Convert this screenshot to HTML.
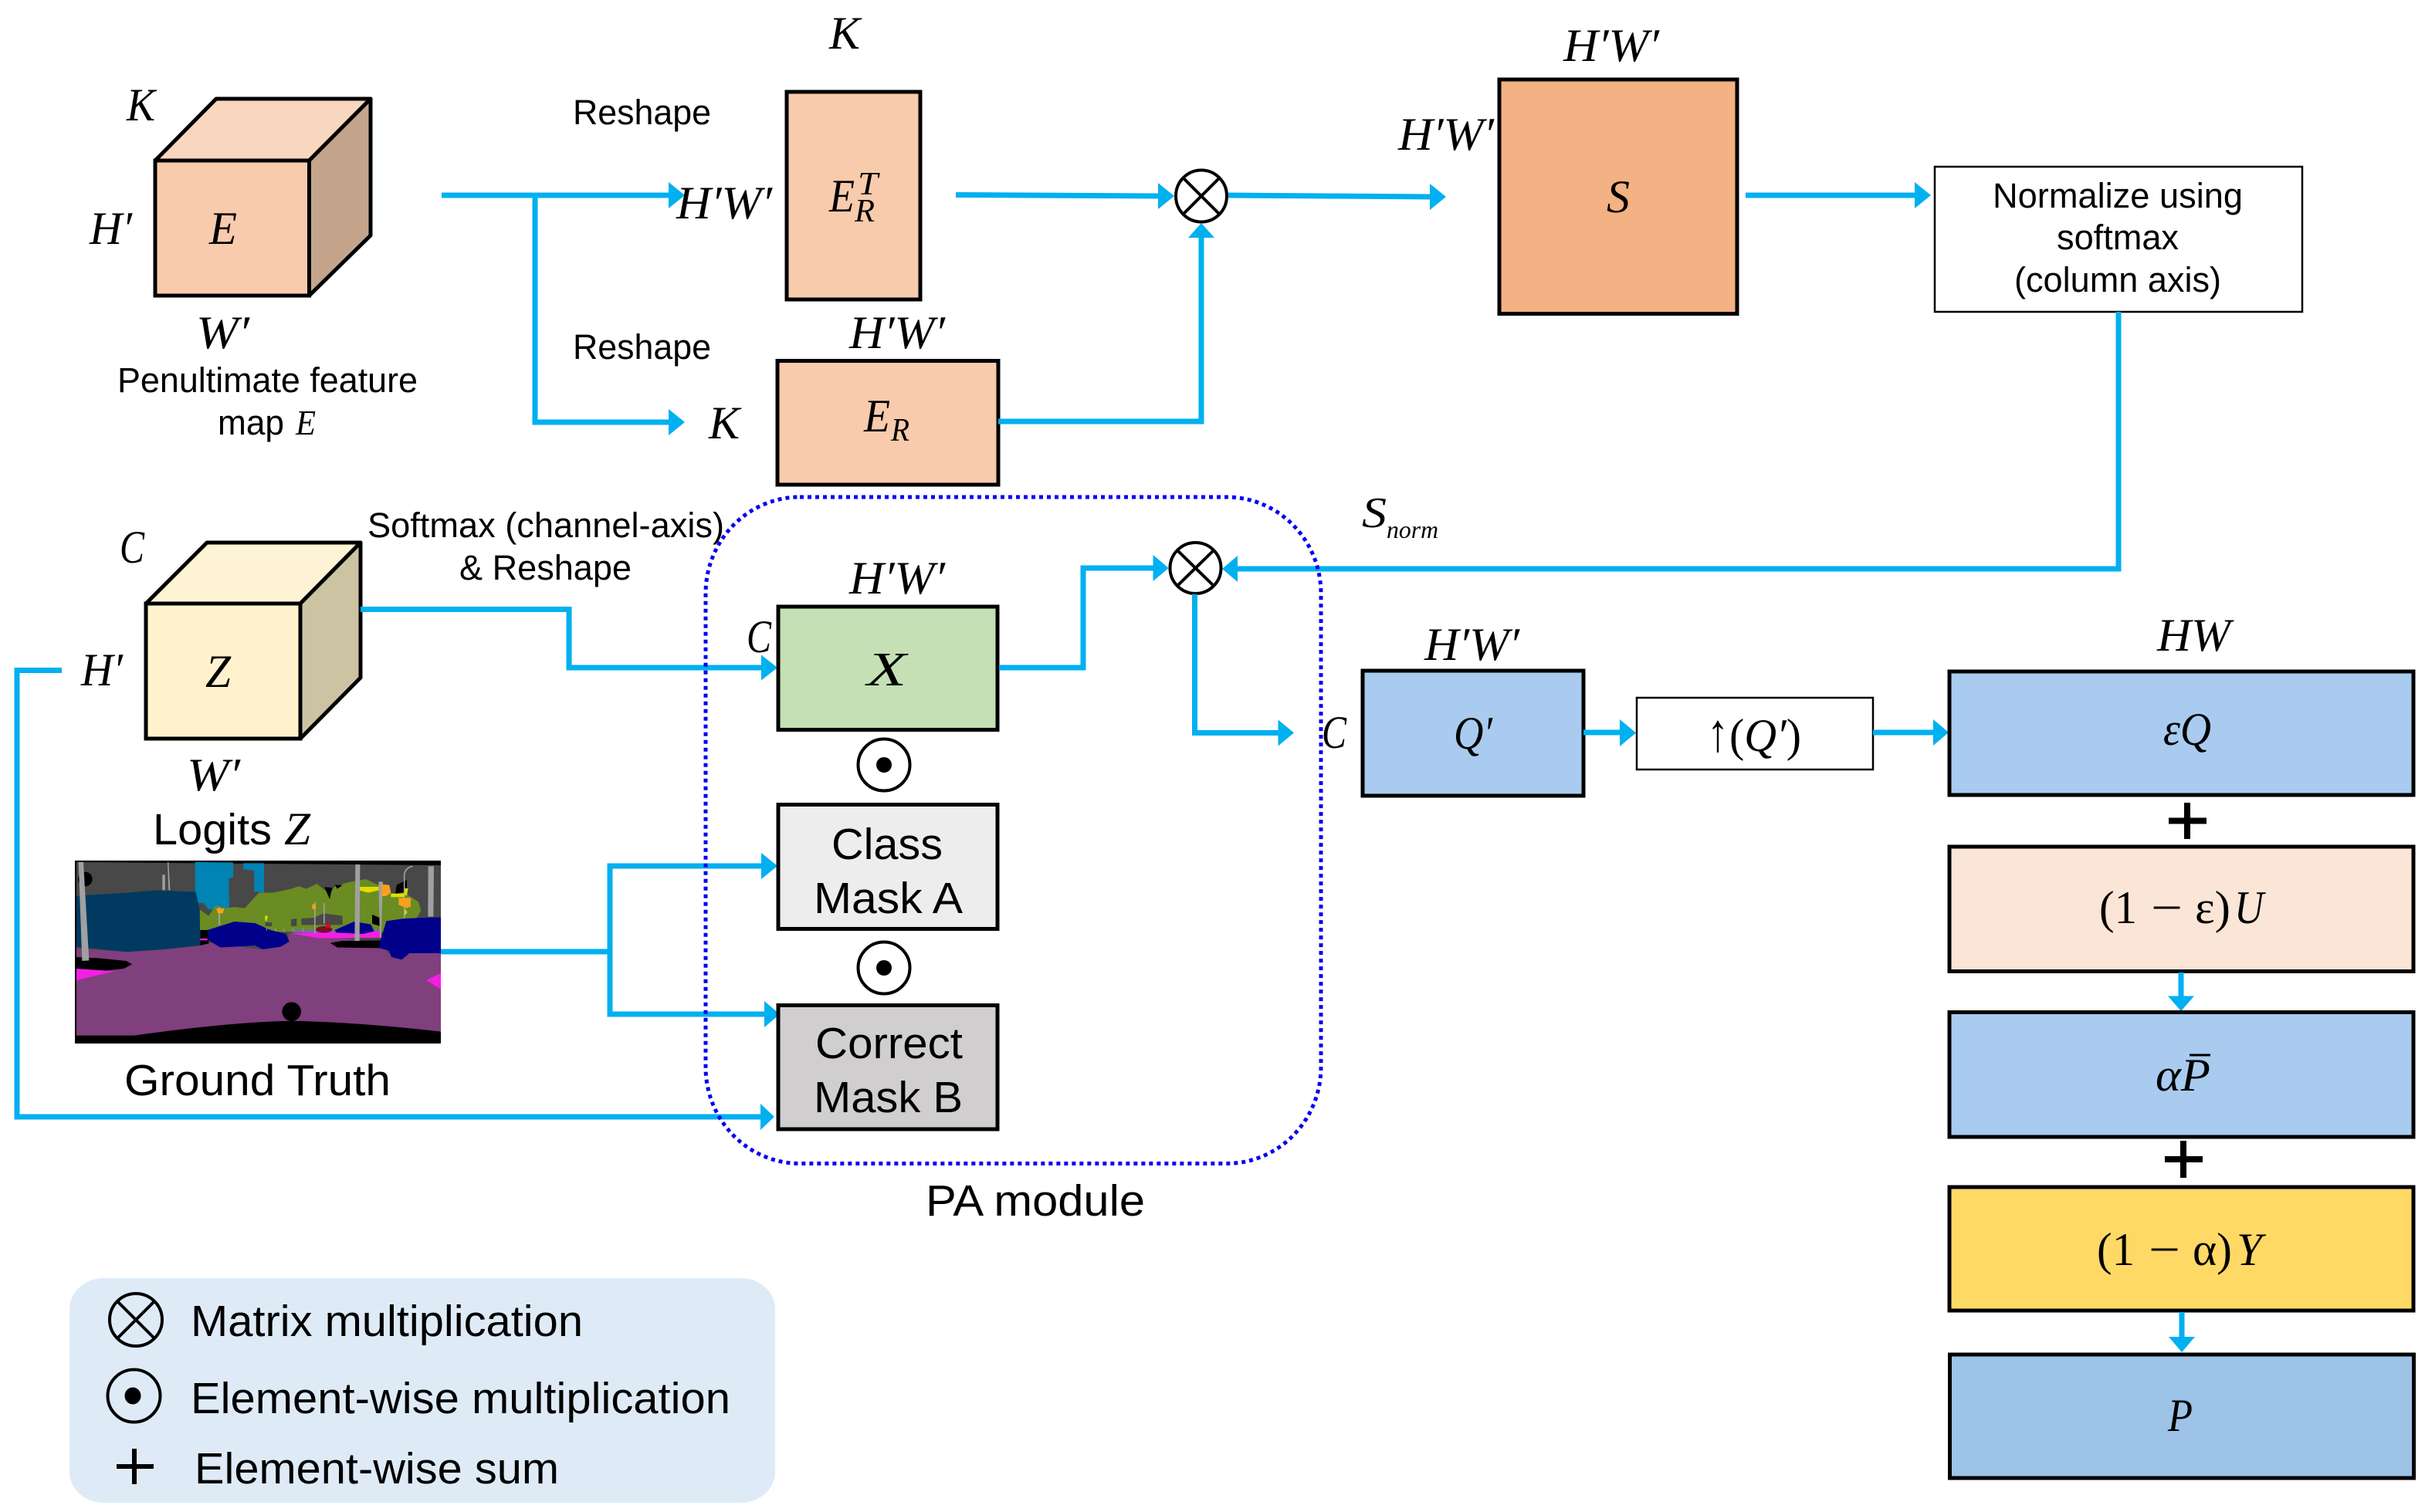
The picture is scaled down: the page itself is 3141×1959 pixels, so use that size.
<!DOCTYPE html>
<html>
<head>
<meta charset="utf-8">
<style>
html,body{margin:0;padding:0;background:#fff;width:3141px;height:1959px;overflow:hidden}
svg{display:block}
text{fill:#000}
.m{font-family:"Liberation Serif",serif;font-style:italic;font-size:60px}
.r{font-family:"Liberation Serif",serif;font-size:60px}
.sub{font-family:"Liberation Serif",serif;font-style:italic;font-size:42px}
.s{font-family:"Liberation Sans",sans-serif;font-size:45px}
.l{font-family:"Liberation Sans",sans-serif;font-size:57px}
.b{stroke:#000;stroke-width:5}
.t{stroke:#000;stroke-width:2.5;fill:#fff}
.c{stroke:#00B0F0;stroke-width:7;fill:none;stroke-linejoin:miter}
.h{fill:#00B0F0;stroke:none}
.o{fill:none;stroke:#000;stroke-width:4}
</style>
</head>
<body>
<svg xmlns="http://www.w3.org/2000/svg" width="3141" height="1959" viewBox="0 0 3141 1959">
<rect width="3141" height="1959" fill="#fff"/>

<!-- Legend panel -->
<rect x="90" y="1656" width="914" height="291" rx="44" ry="40" fill="#DEEBF7"/>
<ellipse cx="176" cy="1710" rx="34" ry="34" class="o"/>
<path d="M152 1686L200 1734M200 1686L152 1734" class="o"/>
<ellipse cx="173.500" cy="1808.500" rx="34" ry="34" class="o"/>
<ellipse cx="172" cy="1808.500" rx="10.500" ry="11" fill="#000"/>
<path d="M151 1900H199M174 1877V1923" stroke="#000" stroke-width="6" fill="none"/>
<text class="l" x="247" y="1731" textLength="508" lengthAdjust="spacingAndGlyphs">Matrix multiplication</text>
<text class="l" x="247" y="1831" textLength="699" lengthAdjust="spacingAndGlyphs">Element-wise multiplication</text>
<text class="l" x="252" y="1922" textLength="472" lengthAdjust="spacingAndGlyphs">Element-wise sum</text>

<!-- Cube E -->
<polygon points="201,208 280,128 480,128 400.500,208" fill="#F9D6BE" class="b" stroke-linejoin="round"/>
<polygon points="400.500,208 480,128 480,305 400.500,383" fill="#C5A48C" class="b" stroke-linejoin="round"/>
<rect x="201" y="208" width="199.500" height="175" fill="#F8CBAD" class="b"/>
<text class="m" x="164" y="156" textLength="37" lengthAdjust="spacingAndGlyphs">K</text>
<text class="m" x="116" y="316" textLength="55" lengthAdjust="spacingAndGlyphs">H′</text>
<text class="m" x="271" y="316" textLength="36" lengthAdjust="spacingAndGlyphs">E</text>
<text class="m" x="254" y="451" textLength="69" lengthAdjust="spacingAndGlyphs">W′</text>
<text class="s" x="152" y="508" textLength="389" lengthAdjust="spacingAndGlyphs">Penultimate feature</text>
<text class="s" x="282" y="563" textLength="86" lengthAdjust="spacingAndGlyphs">map</text>
<text class="m" style="font-size:46px" x="383" y="563" textLength="26" lengthAdjust="spacingAndGlyphs">E</text>

<!-- Top left connectors -->
<path class="c" d="M572 253H870"/>
<polygon class="h" points="866,236 887,253 866,270"/>
<path class="c" d="M693 253V547H870"/>
<polygon class="h" points="866,530 887,547 866,564"/>
<text class="s" x="742" y="161" textLength="179" lengthAdjust="spacingAndGlyphs">Reshape</text>
<text class="s" x="742" y="465" textLength="179" lengthAdjust="spacingAndGlyphs">Reshape</text>
<text class="m" x="876" y="283" textLength="124" lengthAdjust="spacingAndGlyphs">H′W′</text>
<text class="m" x="918" y="568" textLength="40" lengthAdjust="spacingAndGlyphs">K</text>

<!-- E_R^T -->
<text class="m" x="1074" y="63" textLength="40" lengthAdjust="spacingAndGlyphs">K</text>
<rect x="1019" y="119" width="173" height="269" fill="#F8CBAD" class="b"/>
<text class="m" x="1074" y="274" textLength="33" lengthAdjust="spacingAndGlyphs">E</text>
<text class="sub" x="1111" y="252" textLength="26" lengthAdjust="spacingAndGlyphs">T</text>
<text class="sub" x="1107" y="287" textLength="26" lengthAdjust="spacingAndGlyphs">R</text>

<!-- E_R -->
<text class="m" x="1100" y="451" textLength="124" lengthAdjust="spacingAndGlyphs">H′W′</text>
<rect x="1007" y="467.500" width="286" height="160.500" fill="#F8CBAD" class="b"/>
<text class="m" x="1119" y="559" textLength="34" lengthAdjust="spacingAndGlyphs">E</text>
<text class="sub" x="1154" y="571" textLength="24" lengthAdjust="spacingAndGlyphs">R</text>

<!-- Matrix mult 1 -->
<path class="c" d="M1238 252.500L1504 254"/>
<polygon class="h" points="1500,237 1521,254 1500,271"/>
<ellipse cx="1556" cy="254" rx="33" ry="33.500" class="o" fill="#fff"/>
<path d="M1533 231L1579 277M1579 231L1533 277" class="o"/>
<path class="c" d="M1591 253L1856 255"/>
<polygon class="h" points="1852,238 1873,255 1852,272"/>
<path class="c" d="M1293 546H1556V300"/>
<polygon class="h" points="1539,308 1556,289 1573,308"/>

<!-- S -->
<text class="m" x="2025" y="79" textLength="124" lengthAdjust="spacingAndGlyphs">H′W′</text>
<text class="m" x="1811" y="194" textLength="124" lengthAdjust="spacingAndGlyphs">H′W′</text>
<rect x="1942" y="103" width="308" height="303.500" fill="#F4B183" class="b"/>
<text class="m" x="2081" y="275" textLength="30" lengthAdjust="spacingAndGlyphs">S</text>
<path class="c" d="M2261 253H2485"/>
<polygon class="h" points="2480,236 2501,253 2480,270"/>

<!-- Normalize -->
<rect x="2506" y="216" width="476" height="188" class="t"/>
<text class="s" x="2581" y="269" textLength="324" lengthAdjust="spacingAndGlyphs">Normalize using</text>
<text class="s" x="2664" y="323" textLength="158" lengthAdjust="spacingAndGlyphs">softmax</text>
<text class="s" x="2609" y="378" textLength="268" lengthAdjust="spacingAndGlyphs">(column axis)</text>
<path class="c" d="M2744 404V737H1600"/>
<polygon class="h" points="1603,720 1583,737 1603,754"/>
<text class="m" style="font-size:56px" x="1764" y="683" textLength="32" lengthAdjust="spacingAndGlyphs">S</text>
<text class="m" style="font-size:32px" x="1796" y="697" textLength="67" lengthAdjust="spacingAndGlyphs">norm</text>

<!-- Cube Z -->
<polygon points="189,782 268,703 467,703 389,782" fill="#FFF3D6" class="b" stroke-linejoin="round"/>
<polygon points="389,782 467,703 467,878 389,957" fill="#CCC3A3" class="b" stroke-linejoin="round"/>
<rect x="189" y="782" width="200" height="175" fill="#FFF2CC" class="b"/>
<text class="m" x="155" y="729" textLength="32" lengthAdjust="spacingAndGlyphs">C</text>
<text class="m" x="105" y="888" textLength="54" lengthAdjust="spacingAndGlyphs">H′</text>
<text class="m" x="266" y="890" textLength="33" lengthAdjust="spacingAndGlyphs">Z</text>
<text class="m" x="242" y="1024" textLength="69" lengthAdjust="spacingAndGlyphs">W′</text>
<text class="l" x="198" y="1094" textLength="154" lengthAdjust="spacingAndGlyphs">Logits</text>
<text class="m" x="368" y="1094" textLength="34" lengthAdjust="spacingAndGlyphs">Z</text>
<text class="s" x="476" y="696" textLength="462" lengthAdjust="spacingAndGlyphs">Softmax (channel-axis)</text>
<text class="s" x="595" y="751" textLength="223" lengthAdjust="spacingAndGlyphs">&amp; Reshape</text>

<!-- Segmentation image -->
<svg x="97" y="1115" width="474" height="237" viewBox="0 0 1422 711" preserveAspectRatio="none">
<rect width="1422" height="711" fill="#000"/>
<polygon points="6,6 1422,18 1422,380 6,380" fill="#484848"/>
<polygon points="467,6 615,8 615,65 598,70 600,185 520,190 500,165 467,165" fill="#0083B5"/>
<polygon points="655,10 735,10 735,125 697,120 697,38 655,35" fill="#0083B5"/>
<circle cx="40" cy="72" r="28" fill="#000"/>
<polygon points="485,190 520,215 545,175 590,185 620,180 660,185 715,125 770,125 840,110 870,100 900,110 940,90 990,130 1010,100 1060,85 1130,72 1180,95 1230,130 1280,125 1335,160 1345,195 1330,220 1190,280 485,275" fill="#6A8C22"/>
<polygon points="880,225 930,222 965,205 1040,215 1040,250 880,250" fill="#484848"/>
<polygon points="740,240 765,240 765,255 740,255" fill="#484848"/>
<polygon points="840,228 862,225 862,255 840,255" fill="#484848"/>
<polygon points="970,103 1000,105 990,150" fill="#000"/>
<polygon points="1010,95 1040,95 1020,110" fill="#000"/>
<polygon points="1155,210 1190,225 1185,255 1155,245" fill="#000"/>
<polygon points="1250,95 1290,75 1290,120 1245,130" fill="#000"/>
<polygon points="487,270 520,270 520,330 487,330" fill="#000"/>
<rect x="850" y="268" width="335" height="12" fill="#7070a0"/>
<polygon points="6,140 40,135 200,125 320,115 470,122 485,190 487,330 350,345 200,355 6,335" fill="#003A60"/>
<path d="M6 340L200 355L350 345L487 330L530 320L720 345L830 310L830 285L1000 295L1180 320L1240 380L1290 360L1422 360V665Q1100 628 842 623Q600 628 230 680H6Z" fill="#803F7D"/>
<polygon points="6,375 100,380 200,390 222,403 190,420 100,430 6,425" fill="#000"/>
<polygon points="6,420 155,430 6,465" fill="#F41FE4"/>
<polygon points="1422,438 1365,465 1422,500" fill="#F41FE4"/>
<circle cx="842" cy="587" r="37" fill="#000"/>
<rect x="838" y="615" width="8" height="15" fill="#000"/>
<polygon points="992,320 1040,312 1190,310 1190,340 1020,338" fill="#000"/>
<polygon points="830,282 1185,275 1185,300 950,302 880,290" fill="#F41FE4"/>
<rect x="487" y="303" width="28" height="7" fill="#F41FE4"/>
<polygon points="515,270 620,237 700,243 760,270 820,285 833,315 800,335 730,345 700,330 620,335 565,338 520,310" fill="#00008B"/>
<polygon points="1010,270 1085,237 1150,248 1163,275 1120,285 1015,280" fill="#00008B"/>
<polygon points="1185,320 1210,235 1280,225 1422,220 1422,360 1300,360 1270,385 1230,375 1220,350 1183,340" fill="#00008B"/>
<ellipse cx="968" cy="268" rx="32" ry="13" fill="#7B0D2A"/>
<polygon points="978,240 990,240 995,262 975,262" fill="#C0102A"/>
<polygon points="14,6 33,6 55,388 28,390" fill="#A0A0A0"/>
<polygon points="1090,15 1108,15 1106,312 1087,312" fill="#A0A0A0"/>
<polygon points="1373,22 1395,22 1393,218 1372,218" fill="#A0A0A0"/>
<polygon points="1180,82 1197,82 1190,300 1185,300" fill="#A0A0A0"/>
<polygon points="340,55 350,55 350,115 340,115" fill="#A0A0A0"/>
<polygon points="360,6 364,6 370,115 364,115" fill="#A0A0A0"/>
<polygon points="930,162 936,162 934,285 930,285" fill="#A0A0A0"/>
<polygon points="966,165 971,165 971,245 966,245" fill="#A0A0A0"/>
<polygon points="558,180 564,180 564,250 558,250" fill="#A0A0A0"/>
<path d="M1280 225V60Q1280 30 1312 22" fill="none" stroke="#A0A0A0" stroke-width="5"/>
<path d="M745 260V272M780 262V274M812 264V276M848 264V276M886 262V276" stroke="#A0A0A0" stroke-width="3"/>
<polygon points="1107,102 1180,102 1180,116 1140,125 1107,116" fill="#DFDF00"/>
<rect x="1228" y="128" width="52" height="14" fill="#DFDF00"/>
<polygon points="1282,108 1295,108 1290,135 1282,135" fill="#DFDF00"/>
<polygon points="1282,188 1292,200 1282,215" fill="#DFDF00"/>
<polygon points="738,215 750,215 745,235 740,235" fill="#DFDF00"/>
<polygon points="1192,92 1222,95 1228,125 1210,138 1192,138" fill="#FAA01E"/>
<polygon points="1258,145 1305,145 1305,178 1290,185 1258,172" fill="#FAA01E"/>
<polygon points="550,186 580,186 575,205 555,205" fill="#FAA01E"/>
<rect x="922" y="170" width="14" height="18" fill="#FAA01E"/>
</svg>
<text class="l" x="161" y="1419" textLength="345" lengthAdjust="spacingAndGlyphs">Ground Truth</text>

<!-- Connectors lower left -->
<path class="c" d="M467 789.500H737V865H990"/>
<polygon class="h" points="986,848.500 1007,865 986,881.500"/>
<path class="c" d="M80 868.500H22V1447H990"/>
<polygon class="h" points="985,1430 1003,1447 985,1464"/>
<path class="c" d="M571 1233H790"/>
<path class="c" d="M990 1122H790V1314H995"/>
<polygon class="h" points="986,1105 1007,1122 986,1139"/>
<polygon class="h" points="990,1297 1010,1314 990,1331"/>

<!-- PA module -->
<rect x="914" y="644" width="797" height="863.500" rx="122" ry="125" fill="none" stroke="#0000F0" stroke-width="5" stroke-dasharray="5 5"/>
<text class="m" x="1100" y="769" textLength="124" lengthAdjust="spacingAndGlyphs">H′W′</text>
<text class="m" x="967" y="845" textLength="32" lengthAdjust="spacingAndGlyphs">C</text>
<rect x="1008" y="786" width="284" height="159.500" fill="#C5E0B4" class="b"/>
<text class="m" style="font-size:62px" x="1123" y="888" textLength="51" lengthAdjust="spacingAndGlyphs">X</text>
<ellipse cx="1145" cy="991" rx="33.500" ry="33.500" class="o"/>
<circle cx="1145" cy="991" r="10" fill="#000"/>
<rect x="1008" y="1042.500" width="284" height="161" fill="#EDEDED" class="b"/>
<text class="l" x="1077" y="1113" textLength="144" lengthAdjust="spacingAndGlyphs">Class</text>
<text class="l" x="1054" y="1183" textLength="193" lengthAdjust="spacingAndGlyphs">Mask A</text>
<ellipse cx="1145" cy="1254" rx="33.500" ry="33.500" class="o"/>
<circle cx="1145" cy="1254" r="10" fill="#000"/>
<rect x="1008" y="1302.500" width="284" height="160.500" fill="#D0CECE" class="b"/>
<text class="l" x="1056" y="1371" textLength="191" lengthAdjust="spacingAndGlyphs">Correct</text>
<text class="l" x="1054" y="1441" textLength="193" lengthAdjust="spacingAndGlyphs">Mask B</text>
<text class="l" x="1199" y="1575" textLength="284" lengthAdjust="spacingAndGlyphs">PA module</text>

<path class="c" d="M1294 865H1403V736H1497"/>
<polygon class="h" points="1493.500,719 1513.700,736 1493.500,753"/>
<ellipse cx="1548.500" cy="736" rx="33" ry="33" class="o" fill="#fff"/>
<path d="M1525 713L1572 759M1572 713L1525 759" class="o"/>
<path class="c" d="M1547.500 770V949.500H1660"/>
<polygon class="h" points="1655.500,932.500 1676,949.500 1655.500,966.500"/>
<text class="m" x="1712" y="969" textLength="32" lengthAdjust="spacingAndGlyphs">C</text>

<!-- Q' -->
<text class="m" x="1845" y="855" textLength="123" lengthAdjust="spacingAndGlyphs">H′W′</text>
<rect x="1765" y="869" width="286" height="162" fill="#A9CBEF" class="b"/>
<text class="m" x="1883" y="970" textLength="50" lengthAdjust="spacingAndGlyphs">Q′</text>
<path class="c" d="M2051 949H2100"/>
<polygon class="h" points="2098,932 2119,949.500 2098,967"/>
<rect x="2120" y="904" width="306" height="93" class="t"/>
<text class="r" style="font-size:70px" x="2211" y="973" textLength="28" lengthAdjust="spacingAndGlyphs">↑</text>
<text class="r" x="2240" y="973" textLength="93" lengthAdjust="spacingAndGlyphs">(<tspan class="m">Q′</tspan>)</text>
<path class="c" d="M2426 949H2508"/>
<polygon class="h" points="2504,932 2524,949 2504,966"/>

<!-- Right stack -->
<text class="m" x="2794" y="843" textLength="95" lengthAdjust="spacingAndGlyphs">HW</text>
<rect x="2525" y="870" width="601" height="160" fill="#A9CBEF" class="b"/>
<text class="m" x="2802" y="965" textLength="62" lengthAdjust="spacingAndGlyphs">εQ</text>
<path d="M2809 1063.500H2858M2833 1040V1087" stroke="#000" stroke-width="8" fill="none"/>
<rect x="2525" y="1097" width="601" height="161.500" fill="#FBE5D6" class="b"/>
<text class="r" x="2719" y="1196" textLength="49" lengthAdjust="spacingAndGlyphs">(1</text>
<text class="r" x="2786" y="1196" textLength="41" lengthAdjust="spacingAndGlyphs">−</text>
<text class="r" x="2843" y="1196" textLength="46" lengthAdjust="spacingAndGlyphs">ε)</text>
<text class="m" x="2894" y="1196" textLength="38" lengthAdjust="spacingAndGlyphs">U</text>
<path class="c" d="M2825 1260V1294"/>
<polygon class="h" points="2808,1290.500 2842,1290.500 2825,1310"/>
<rect x="2525" y="1311.500" width="601" height="161.500" fill="#A9CBEF" class="b"/>
<text class="m" x="2792" y="1413" textLength="71" lengthAdjust="spacingAndGlyphs">αP</text>
<path d="M2836 1367H2863" stroke="#000" stroke-width="3"/>
<path d="M2804 1502H2853M2828 1478V1526" stroke="#000" stroke-width="8" fill="none"/>
<rect x="2525" y="1538" width="601" height="160" fill="#FFD966" class="b"/>
<text class="r" x="2716" y="1639" textLength="49" lengthAdjust="spacingAndGlyphs">(1</text>
<text class="r" x="2783" y="1639" textLength="41" lengthAdjust="spacingAndGlyphs">−</text>
<text class="r" x="2840" y="1639" textLength="51" lengthAdjust="spacingAndGlyphs">α)</text>
<text class="m" x="2897" y="1639" textLength="33" lengthAdjust="spacingAndGlyphs">Y</text>
<path class="c" d="M2826 1700V1736"/>
<polygon class="h" points="2809,1732 2843,1732 2826,1752"/>
<rect x="2525.500" y="1755" width="601" height="160" fill="#9DC3E6" class="b"/>
<text class="m" x="2808" y="1854" textLength="32" lengthAdjust="spacingAndGlyphs">P</text>
</svg>
</body>
</html>
